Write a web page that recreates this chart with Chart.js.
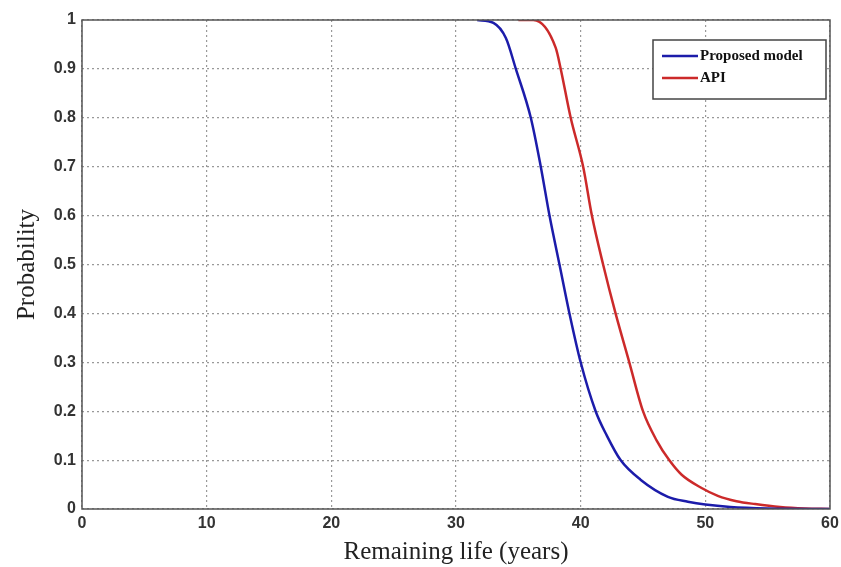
<!DOCTYPE html>
<html>
<head>
<meta charset="utf-8">
<script src="https://cdn.jsdelivr.net/npm/chart.js@4"></script>
<style>
  body { margin: 0; background: #fff; }
</style>
</head>
<body>
<canvas id="lifeChart" width="841" height="567"></canvas>
<script>
    const proposedYears = [31.7, 33.0, 34.0, 34.8, 36.0, 36.8, 37.5, 38.3, 39.1, 40.0, 41.2, 42.1, 43.2, 44.8, 47.0, 48.6, 50.0, 52.0, 55.0, 60.0];
    const proposedProb  = [1.0, 0.994, 0.963, 0.9, 0.8, 0.7, 0.6, 0.5, 0.4, 0.3, 0.2, 0.15, 0.1, 0.06, 0.025, 0.015, 0.009, 0.004, 0.001, 0.0];
    const apiYears = [35.0, 36.2, 38.0, 38.4, 39.2, 40.2, 40.9, 41.8, 42.8, 43.9, 45.0, 46.1, 47.1, 48.1, 49.7, 51.0, 52.5, 54.0, 56.0, 58.0, 60.0];
    const apiProb  = [1.0, 1.0, 0.943, 0.9, 0.8, 0.7, 0.6, 0.5, 0.4, 0.3, 0.2, 0.14, 0.1, 0.07, 0.043, 0.027, 0.016, 0.01, 0.004, 0.001, 0.0];

    const toPoints = (xs, ys) => xs.map((x, i) => ({ x: x, y: ys[i] }));

    // box around plot area + legend inside, matlab style
    const boxPlugin = {
        id: 'box',
        afterDraw(chart) {
            const ctx = chart.ctx;
            const a = chart.chartArea;
            ctx.save();
            ctx.strokeStyle = '#555';
            ctx.lineWidth = 1.5;
            ctx.strokeRect(a.left, a.top, a.right - a.left, a.bottom - a.top);

            // legend
            const lx = 653, ly = 40, lw = 173, lh = 59;
            ctx.fillStyle = '#fff';
            ctx.fillRect(lx, ly, lw, lh);
            ctx.strokeStyle = '#444';
            ctx.lineWidth = 1.5;
            ctx.strokeRect(lx, ly, lw, lh);
            ctx.font = 'bold 15px "Liberation Serif", serif';
            ctx.textBaseline = 'middle';
            chart.data.datasets.forEach((ds, i) => {
                const yy = ly + 16 + i * 22;
                ctx.strokeStyle = ds.borderColor;
                ctx.lineWidth = 2.5;
                ctx.beginPath();
                ctx.moveTo(lx + 9, yy);
                ctx.lineTo(lx + 45, yy);
                ctx.stroke();
                ctx.fillStyle = '#111';
                ctx.fillText(ds.label, lx + 47, yy);
            });
            ctx.restore();
        }
    };

    const ctx = document.getElementById('lifeChart').getContext('2d');
    new Chart(ctx, {
        type: 'line',
        data: {
            datasets: [{
                label: 'Proposed model',
                data: toPoints(proposedYears, proposedProb),
                borderColor: '#1c1caa',
                borderWidth: 2.5,
                pointRadius: 0,
                cubicInterpolationMode: 'monotone',
                fill: false
            }, {
                label: 'API',
                data: toPoints(apiYears, apiProb),
                borderColor: '#cc2a2a',
                borderWidth: 2.5,
                pointRadius: 0,
                cubicInterpolationMode: 'monotone',
                fill: false
            }]
        },
        options: {
            responsive: false,
            animation: false,
            layout: { padding: { top: 20, right: 11, left: 0, bottom: 0 } },
            plugins: {
                legend: { display: false },
                tooltip: { enabled: false }
            },
            scales: {
                x: {
                    type: 'linear',
                    min: 0,
                    max: 60,
                    afterFit(scale) {
                        scale.height = 58;
                        scale.paddingRight = 0;
                        scale.paddingLeft = 0;
                    },
                    ticks: {
                        stepSize: 10,
                        font: { family: '"Liberation Sans", Arial, sans-serif', size: 16, weight: 'bold' },
                        color: '#333',
                        padding: 5
                    },
                    grid: { color: '#999', lineWidth: 1.2, drawTicks: false },
                    border: { display: false, dash: [2, 3] },
                    title: {
                        display: true,
                        text: 'Remaining life (years)',
                        font: { family: '"Liberation Serif", serif', size: 25 },
                        color: '#222',
                        padding: { top: 0, bottom: 0 }
                    }
                },
                y: {
                    min: 0,
                    max: 1,
                    afterFit(scale) { scale.width = 82; },
                    ticks: {
                        stepSize: 0.1,
                        callback: v => String(Math.round(v * 10) / 10),
                        font: { family: '"Liberation Sans", Arial, sans-serif', size: 16, weight: 'bold' },
                        color: '#333',
                        padding: 6
                    },
                    grid: { color: '#999', lineWidth: 1.2, drawTicks: false },
                    border: { display: false, dash: [2, 3] },
                    title: {
                        display: true,
                        text: 'Probability',
                        font: { family: '"Liberation Serif", serif', size: 25 },
                        color: '#222',
                        padding: { top: 12, bottom: 0 }
                    }
                }
            }
        },
        plugins: [boxPlugin]
    });
</script>
</body>
</html>
